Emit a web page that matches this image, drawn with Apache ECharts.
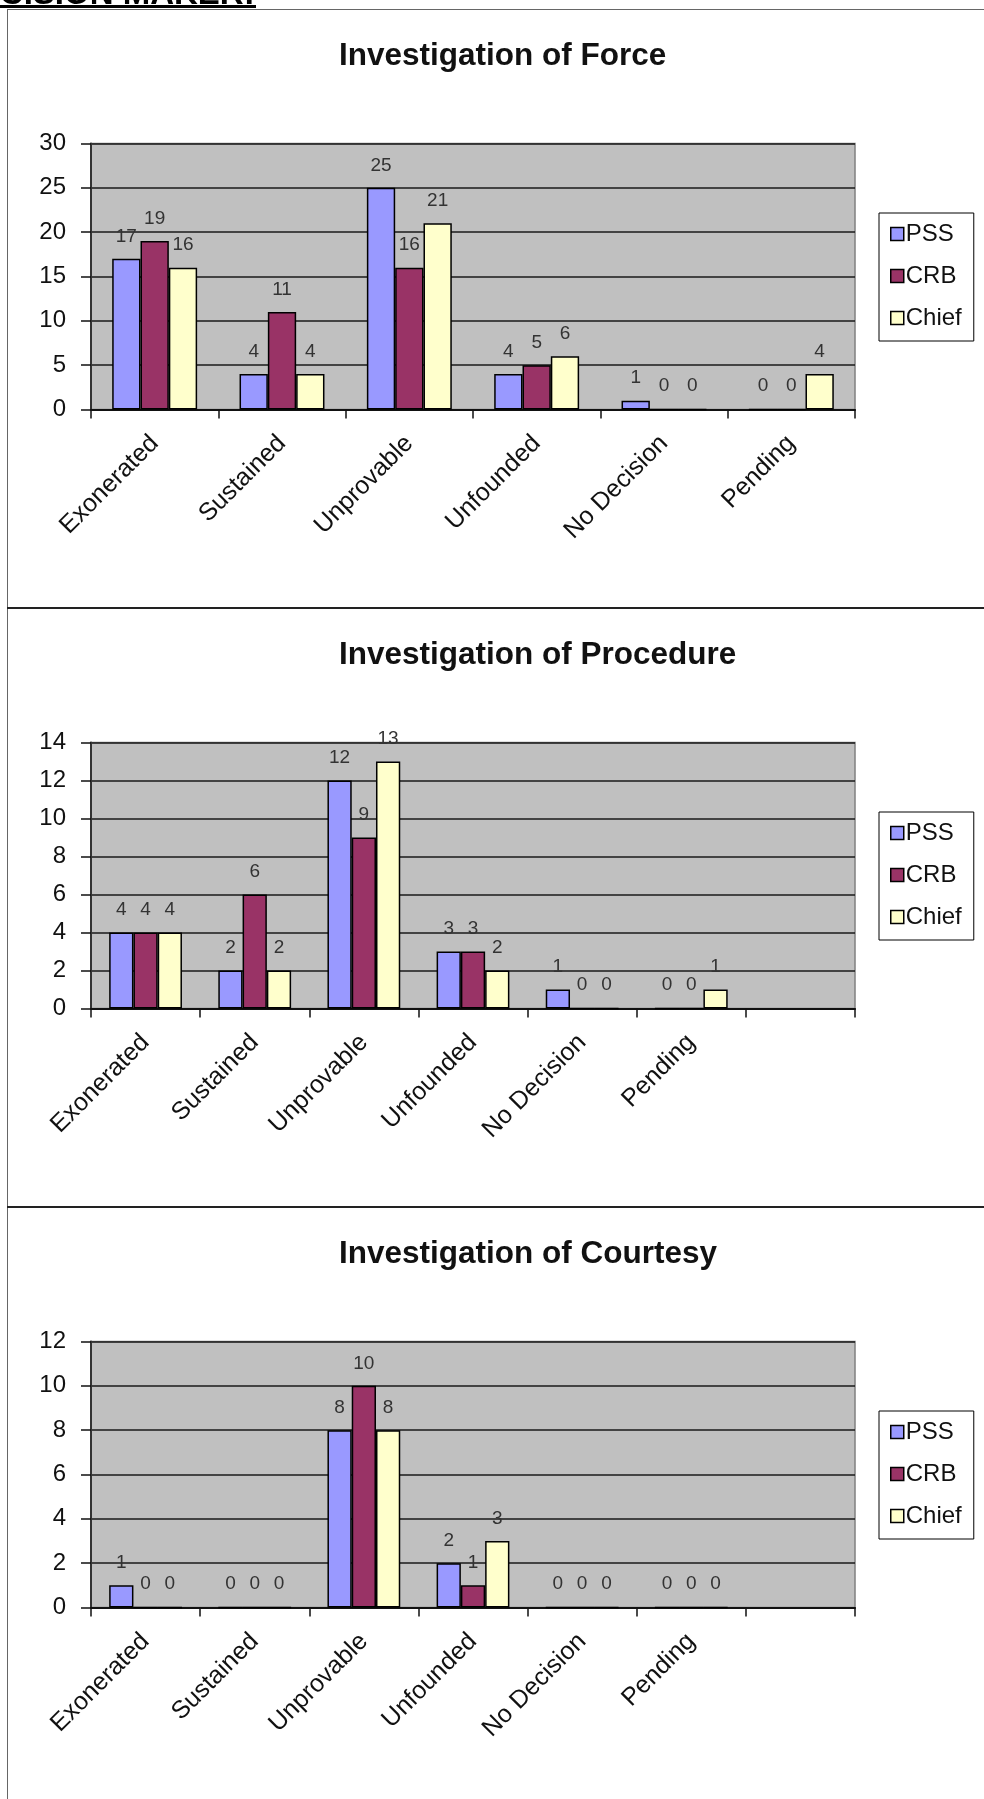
<!DOCTYPE html>
<html><head><meta charset="utf-8">
<script src="https://cdn.jsdelivr.net/npm/echarts@6/dist/echarts.min.js"></script>
<style>
html,body{margin:0;padding:0;background:#fff;}
#wrap{position:relative;width:984px;height:1799px;overflow:hidden;}
#chart{position:absolute;left:0;top:0;width:984px;height:1799px;}
#hdr{position:absolute;left:-46px;top:-23.7px;font:bold 33px 'Liberation Sans',Arial,sans-serif;line-height:33px;white-space:nowrap;color:#000;}
#ul{position:absolute;left:0;top:5px;width:256px;height:3px;background:#000;}
.ln{position:absolute;}
</style></head><body>
<div id="wrap">
<div id="chart"></div>
<div id="hdr">DECISION MAKER:</div>
<div id="ul"></div>
<div class="ln" style="left:6.5px;top:8.5px;width:978px;height:1.5px;background:#666;"></div>
<div class="ln" style="left:6.5px;top:8.5px;width:1.5px;height:1791px;background:#666;"></div>
<div class="ln" style="left:6.5px;top:607.3px;width:978px;height:2px;background:#222;"></div>
<div class="ln" style="left:6.5px;top:1205.7px;width:978px;height:2px;background:#222;"></div>
</div>
<script>
// ---- data ----
const forceCategories = ['Exonerated','Sustained','Unprovable','Unfounded','No Decision','Pending'];
const procedureCategories = ['Exonerated','Sustained','Unprovable','Unfounded','No Decision','Pending',''];
const courtesyCategories = ['Exonerated','Sustained','Unprovable','Unfounded','No Decision','Pending',''];
const seriesNames = ['PSS','CRB','Chief'];
const chartTitles = ['Investigation of Force','Investigation of Procedure','Investigation of Courtesy'];

const forcePSS   = [17, 4, 25, 4, 1, 0];
const forceCRB   = [19, 11, 16, 5, 0, 0];
const forceChief = [16, 4, 21, 6, 0, 4];

const procedurePSS   = [4, 2, 12, 3, 1, 0];
const procedureCRB   = [4, 6, 9, 3, 0, 0];
const procedureChief = [4, 2, 13, 2, 0, 1];

const courtesyPSS   = [1, 0, 8, 2, 0, 0];
const courtesyCRB   = [0, 0, 10, 1, 0, 0];
const courtesyChief = [0, 0, 8, 3, 0, 0];

const yMaxes = [30, 14, 12];
const yIntervals = [5, 2, 2];

// ---- layout / style ----
const FONT = "'Liberation Sans', Arial, sans-serif";
const colors = ['#9999FF', '#993366', '#FFFFCC'];
const panelStep = 599;
const plotTop0 = 143.5;
const plotHeight = 266;
const titleTop0 = 40;
const legendTop0 = 213;

const catSets = [forceCategories, procedureCategories, courtesyCategories];
const dataSets = [
  [forcePSS, forceCRB, forceChief],
  [procedurePSS, procedureCRB, procedureChief],
  [courtesyPSS, courtesyCRB, courtesyChief]
];

const grids = [], xAxes = [], yAxes = [], series = [], titles = [], legends = [];
for (let i = 0; i < 3; i++) {
  const off = i * panelStep;
  grids.push({
    left: 91, width: 764, top: plotTop0 + off, height: plotHeight,
    show: true, backgroundColor: '#C0C0C0', borderColor: '#808080', borderWidth: 1.5,
    containLabel: false
  });
  xAxes.push({
    type: 'category', gridIndex: i, data: catSets[i], boundaryGap: true,
    axisLine: { show: true, lineStyle: { color: '#111', width: 2 } },
    axisTick: { show: true, length: 9, interval: 0, lineStyle: { color: '#111', width: 1.5 } },
    axisLabel: { interval: 0, rotate: 45, margin: 30, fontSize: 25, color: '#111', fontFamily: FONT },
    splitLine: { show: false }
  });
  yAxes.push({
    type: 'value', gridIndex: i, min: 0, max: yMaxes[i], interval: yIntervals[i],
    axisLine: { show: true, lineStyle: { color: '#333', width: 2 } },
    axisTick: { show: true, length: 10, inside: false, lineStyle: { color: '#111', width: 1.5 } },
    axisLabel: { margin: 25, fontSize: 24, color: '#111', fontFamily: FONT },
    splitLine: { show: true, lineStyle: { color: '#1a1a1a', width: 1.5 } }
  });
  titles.push({
    text: chartTitles[i], left: 339, top: titleTop0 + off, padding: 0,
    textStyle: { fontSize: 31.5, fontWeight: 'bold', color: '#111', fontFamily: FONT, lineHeight: 32 }
  });
  legends.push({
    orient: 'vertical', left: 879, top: legendTop0 + off,
    data: seriesNames, icon: 'rect', itemWidth: 13, itemHeight: 13, itemGap: 18,
    padding: [9, 12, 11, 11], borderColor: '#000', borderWidth: 1, backgroundColor: '#fff',
    selectedMode: false,
    itemStyle: { borderColor: '#000', borderWidth: 1.5 },
    textStyle: { fontSize: 24, lineHeight: 24, color: '#111', fontFamily: FONT, padding: [0, 0, 0, -3] }
  });
  for (let s = 0; s < 3; s++) {
    series.push({
      type: 'bar', name: seriesNames[s], xAxisIndex: i, yAxisIndex: i,
      data: dataSets[i][s], barGap: '0%', barCategoryGap: '33.3%',
      itemStyle: { color: colors[s], borderColor: '#000', borderWidth: 1.5 },
      label: { show: true, position: 'top', distance: 13, fontSize: 19, color: '#333', fontFamily: FONT }
    });
  }
}

const chart = echarts.init(document.getElementById('chart'), null, { renderer: 'canvas' });
chart.setOption({
  animation: false,
  backgroundColor: '#fff',
  title: titles,
  legend: legends,
  grid: grids,
  xAxis: xAxes,
  yAxis: yAxes,
  series: series
});
</script>
</body></html>
